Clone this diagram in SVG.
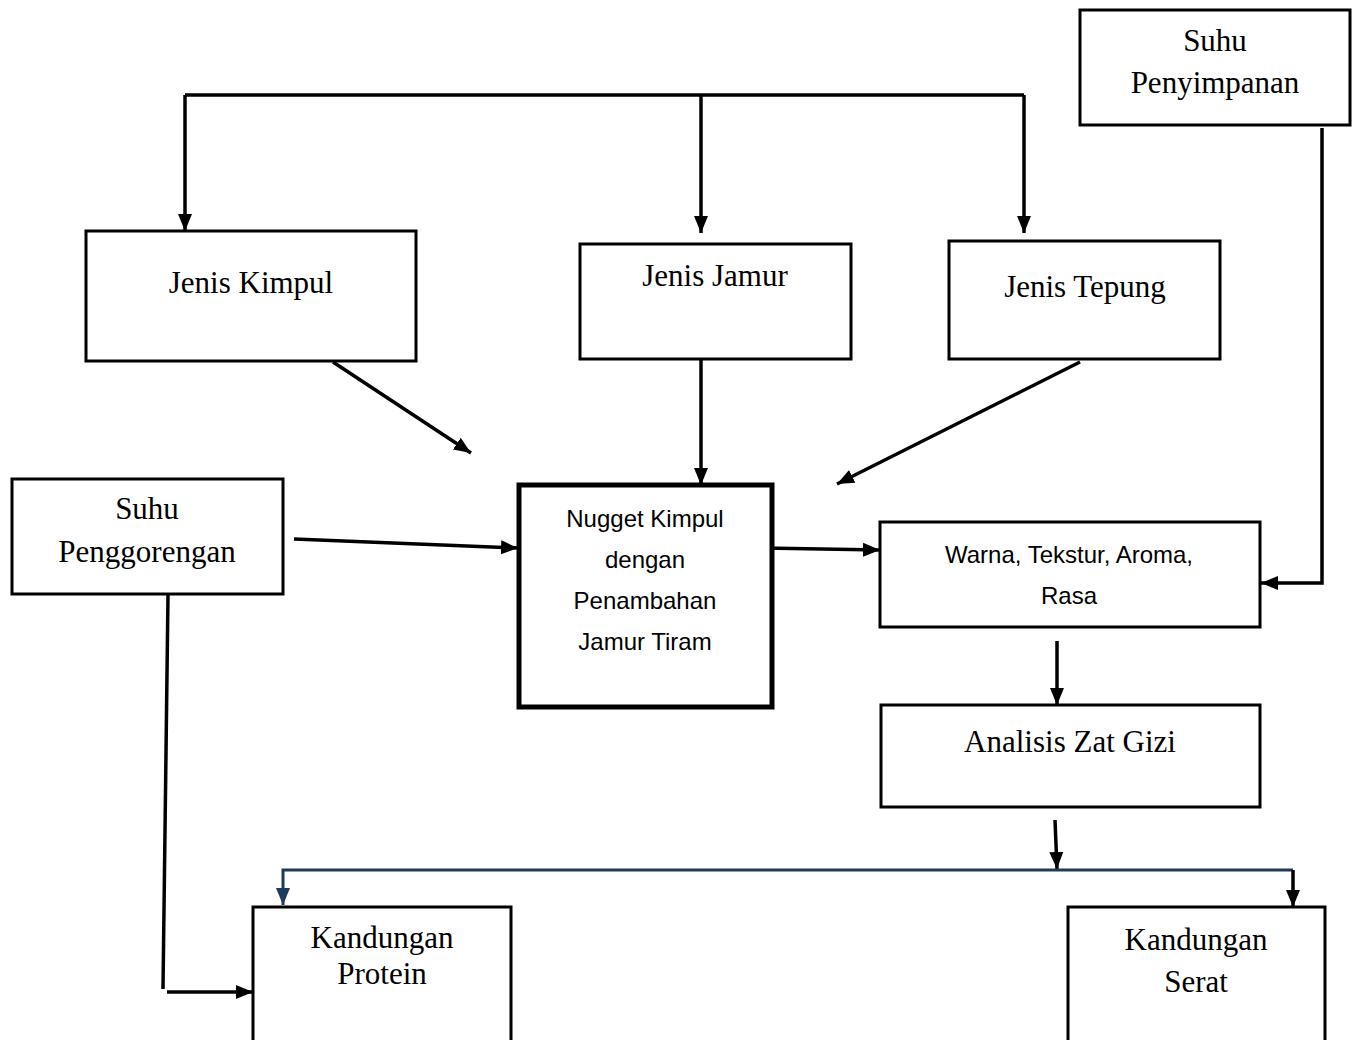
<svg xmlns="http://www.w3.org/2000/svg" width="1357" height="1040" viewBox="0 0 1357 1040">
<defs>
<marker id="ah" markerUnits="userSpaceOnUse" markerWidth="18" markerHeight="18" viewBox="0 0 18 18" refX="17" refY="9" orient="auto"><path d="M0,2 L17,9 L0,16 Z" fill="#000"/></marker>
<marker id="ahb" markerUnits="userSpaceOnUse" markerWidth="18" markerHeight="18" viewBox="0 0 18 18" refX="17" refY="9" orient="auto"><path d="M0,2 L17,9 L0,16 Z" fill="#1f3a5a"/></marker>
</defs>
<style>
.box{fill:#fff;stroke:#000;stroke-width:3}
.thick{fill:#fff;stroke:#000;stroke-width:5}
.c{fill:none;stroke:#000;stroke-width:3.5}
.blue{fill:none;stroke:#1f3a5a;stroke-width:3}
.serif{font-family:"Liberation Serif","Times New Roman",serif;font-size:31px;fill:#000;text-anchor:middle}
.sans{font-family:"Liberation Sans",Arial,sans-serif;font-size:24px;fill:#000;text-anchor:middle}
</style>
<rect width="1357" height="1040" fill="#fff"/>
<g id="connectors">
<path class="c" d="M185,95 H1024"/>
<path class="c" d="M185,95 V231" marker-end="url(#ah)"/>
<path class="c" d="M701,95 V233" marker-end="url(#ah)"/>
<path class="c" d="M1024,95 V233" marker-end="url(#ah)"/>
<path class="c" d="M333,362 L471,453" marker-end="url(#ah)"/>
<path class="c" d="M701,360 V485" marker-end="url(#ah)"/>
<path class="c" d="M1080,362 L837,484" marker-end="url(#ah)"/>
<path class="c" d="M1322,128 V583 H1261" marker-end="url(#ah)"/>
<path class="c" d="M294,539 L518,548" marker-end="url(#ah)"/>
<path class="c" d="M763,548 L880,550" marker-end="url(#ah)"/>
<path class="c" d="M1057,641 V705" marker-end="url(#ah)"/>
<path class="c" d="M1055,820 L1057,869" marker-end="url(#ah)"/>
<path class="blue" d="M1293,870 H283 V905" marker-end="url(#ahb)"/>
<path class="c" d="M1293,870 V907" marker-end="url(#ah)"/>
<path class="c" d="M168,595 L163,989"/>
<path class="c" d="M167,992 H253" marker-end="url(#ah)"/>
</g>
<g id="suhu-penyimpanan">
<rect class="box" x="1080" y="10" width="270" height="115"/>
<text class="serif" x="1215" y="51">Suhu</text>
<text class="serif" x="1215" y="93">Penyimpanan</text>
</g>
<g id="jenis-kimpul">
<rect class="box" x="86" y="231" width="330" height="130"/>
<text class="serif" x="251" y="293" font-size="32">Jenis Kimpul</text>
</g>
<g id="jenis-jamur">
<rect class="box" x="580" y="244" width="271" height="115"/>
<text class="serif" x="715" y="286" font-size="30">Jenis Jamur</text>
</g>
<g id="jenis-tepung">
<rect class="box" x="949" y="241" width="271" height="118"/>
<text class="serif" x="1085" y="297" font-size="32">Jenis Tepung</text>
</g>
<g id="suhu-penggorengan">
<rect class="box" x="12" y="479" width="271" height="115"/>
<text class="serif" x="147" y="519" font-size="30">Suhu</text>
<text class="serif" x="147" y="562" font-size="30">Penggorengan</text>
</g>
<g id="nugget">
<rect class="thick" x="519" y="485" width="253" height="222"/>
<text class="sans" x="645" y="527">Nugget Kimpul</text>
<text class="sans" x="645" y="568">dengan</text>
<text class="sans" x="645" y="609">Penambahan</text>
<text class="sans" x="645" y="650">Jamur Tiram</text>
</g>
<g id="warna">
<rect class="box" x="880" y="522" width="380" height="105"/>
<text class="sans" x="1069" y="563">Warna, Tekstur, Aroma,</text>
<text class="sans" x="1069" y="604">Rasa</text>
</g>
<g id="analisis">
<rect class="box" x="881" y="705" width="379" height="102"/>
<text class="serif" x="1070" y="752" font-size="32">Analisis Zat Gizi</text>
</g>
<g id="kandungan-protein">
<rect class="box" x="253" y="907" width="258" height="150"/>
<text class="serif" x="382" y="948">Kandungan</text>
<text class="serif" x="382" y="984">Protein</text>
</g>
<g id="kandungan-serat">
<rect class="box" x="1068" y="907" width="257" height="150"/>
<text class="serif" x="1196" y="950">Kandungan</text>
<text class="serif" x="1196" y="992">Serat</text>
</g>
</svg>
